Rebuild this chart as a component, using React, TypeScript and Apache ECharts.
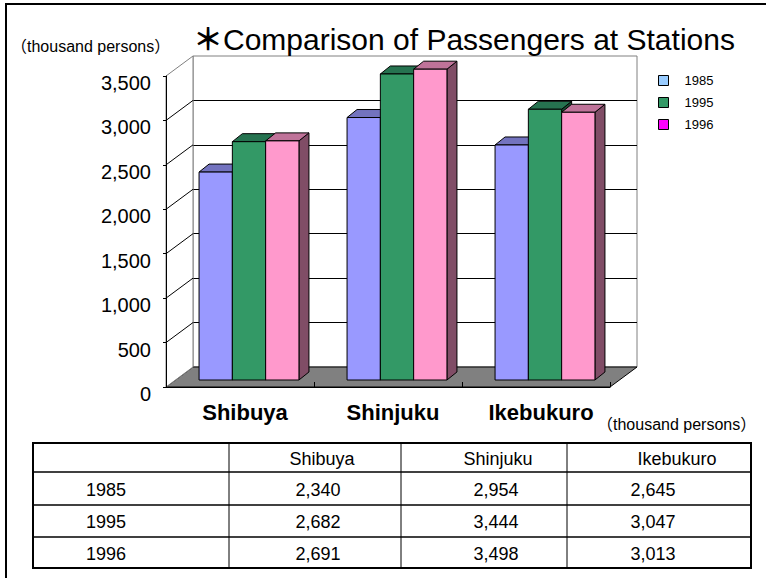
import React, { useEffect, useRef } from 'react';
import * as echarts from 'echarts';

// ---- data ----
const stations = ['Shibuya', 'Shinjuku', 'Ikebukuro'];
const years = ['1985', '1995', '1996'];
const values1985 = [2340, 2954, 2645];
const values1995 = [2682, 3444, 3047];
const values1996 = [2691, 3498, 3013];
const valueTicks = [0, 500, 1000, 1500, 2000, 2500, 3000, 3500];
const titleMark = '＊';
const titleText = 'Comparison of Passengers at Stations';
const unitLabel = '（thousand persons）';

// ---- styles ----
const FONT = "'Liberation Sans', Arial, 'Noto Sans CJK JP', sans-serif";
const frontColors = ['#9999FF', '#339966', '#FF99CC'];
const topColors = ['#7373BF', '#267350', '#BF7399'];
const sideColors = ['#4D4D80', '#1A4D33', '#804D66'];
const legendColors = ['#99CCFF', '#339966', '#FF00FF'];
const DX = 27; // wall depth
const DY = 20;
const BAR_DX = 10; // bar depth
const BAR_DY = 8;
const V_MAX = 3500;

const seriesValues = [values1985, values1995, values1996];

const fmt = (v: number) => v.toLocaleString('en-US');

const makeBarSeries = (idx: number) => ({
  type: 'custom',
  name: years[idx],
  xAxisIndex: 2,
  yAxisIndex: 2,
  z: 3,
  silent: true,
  data: seriesValues[idx].map((v, i) => [i, v]),
  renderItem: (params: any, api: any) => {
    const cat = api.value(0);
    const val = api.value(1);
    const top = api.coord([cat, val]);
    const base = api.coord([cat, 0]);
    const band = api.size([1, 0])[0];
    const w = band * 0.225;
    const x0 = top[0] + (idx - 1) * w - w / 2;
    const x1 = x0 + w;
    const y0 = top[1];
    const y1 = base[1];
    return {
      type: 'group',
      children: [
        {
          type: 'polygon',
          shape: { points: [[x1, y0], [x1 + BAR_DX, y0 - BAR_DY], [x1 + BAR_DX, y1 - BAR_DY], [x1, y1]] },
          style: { fill: sideColors[idx], stroke: '#000', lineWidth: 1 },
        },
        {
          type: 'polygon',
          shape: { points: [[x0, y0], [x0 + BAR_DX, y0 - BAR_DY], [x1 + BAR_DX, y0 - BAR_DY], [x1, y0]] },
          style: { fill: topColors[idx], stroke: '#000', lineWidth: 1 },
        },
        {
          type: 'rect',
          shape: { x: x0, y: y0, width: w, height: y1 - y0 },
          style: { fill: frontColors[idx], stroke: '#000', lineWidth: 1 },
        },
      ],
    };
  },
});

const boxSeries = {
  type: 'custom',
  xAxisIndex: 0,
  yAxisIndex: 0,
  z: 1,
  silent: true,
  data: [[0, 0]],
  renderItem: (params: any, api: any) => {
    const cs = params.coordSys;
    const left = cs.x;
    const right = cs.x + cs.width;
    const topY = cs.y;
    const bottom = cs.y + cs.height;
    const children: any[] = [
      {
        type: 'polygon',
        shape: { points: [[left, bottom], [left + DX, bottom - DY], [right + DX, bottom - DY], [right, bottom]] },
        style: { fill: '#808080', stroke: '#000', lineWidth: 1 },
      },
      {
        type: 'polygon',
        shape: { points: [[left, bottom], [left, topY], [left + DX, topY - DY], [left + DX, bottom - DY]] },
        style: { fill: '#fff', stroke: '#808080', lineWidth: 1 },
      },
    ];
    valueTicks.forEach((v) => {
      if (v > 0 && v < V_MAX) {
        const y = api.coord([0, v])[1];
        children.push({
          type: 'line',
          shape: { x1: left, y1: y, x2: left + DX, y2: y - DY },
          style: { stroke: '#000', lineWidth: 1 },
        });
      }
    });
    return { type: 'group', children };
  },
};

// ---- table ----
const tableCols = [33, 229, 401, 567, 751];
const tableRows = [443, 472, 505, 537, 568];
const headerX = [322, 498, 677];
const valueX = [318, 496, 653];
const yearX = 106;

const tableGraphics = (): any[] => {
  const els: any[] = [];
  const L = tableCols[0];
  const R = tableCols[tableCols.length - 1];
  const T = tableRows[0];
  const B = tableRows[tableRows.length - 1];
  tableCols.slice(1, -1).forEach((x) =>
    els.push({ type: 'line', shape: { x1: x, y1: T, x2: x, y2: B }, style: { stroke: '#000', lineWidth: 1 } })
  );
  tableRows.slice(1, -1).forEach((y) =>
    els.push({ type: 'line', shape: { x1: L, y1: y, x2: R, y2: y }, style: { stroke: '#000', lineWidth: 1.5 } })
  );
  els.push({
    type: 'rect',
    shape: { x: L, y: T, width: R - L, height: B - T },
    style: { fill: 'none', stroke: '#000', lineWidth: 2 },
  });
  const txt = (text: string, x: number, y: number) => ({
    type: 'text',
    x,
    y,
    style: { text, fill: '#000', fontSize: 18, fontFamily: FONT, align: 'center', verticalAlign: 'middle' },
  });
  stations.forEach((s, i) => els.push(txt(s, headerX[i], (tableRows[0] + tableRows[1]) / 2 + 1)));
  years.forEach((yr, r) => {
    const cy = (tableRows[r + 1] + tableRows[r + 2]) / 2 + 1;
    els.push(txt(yr, yearX, cy));
    seriesValues[r].forEach((v, c) => els.push(txt(fmt(v), valueX[c], cy)));
  });
  return els;
};

const option: any = {
  animation: false,
  backgroundColor: '#fff',
  title: {
    text: '{m|' + titleMark + '}' + titleText,
    left: 188,
    top: 19,
    textStyle: {
      fontSize: 30,
      fontWeight: 'normal',
      color: '#000',
      fontFamily: FONT,
      rich: { m: { fontSize: 30, fontWeight: 'bold', color: '#000', fontFamily: FONT } },
    },
  },
  legend: {
    orient: 'vertical',
    left: 653,
    top: 69,
    itemWidth: 10,
    itemHeight: 10,
    itemGap: 9,
    icon: 'rect',
    selectedMode: false,
    data: years.map((y, i) => ({
      name: y,
      itemStyle: { color: legendColors[i], borderColor: '#000', borderWidth: 1 },
    })),
    textStyle: { fontSize: 13, color: '#000', fontFamily: FONT, padding: [0, 0, 0, 11] },
  },
  grid: [
    { left: 166, top: 76, width: 444, height: 311, show: false },
    {
      left: 193,
      top: 56,
      width: 444,
      height: 311,
      show: true,
      borderColor: '#808080',
      borderWidth: 1,
      backgroundColor: '#fff',
    },
    { left: 175, top: 69, width: 444, height: 311, show: false },
  ],
  xAxis: [
    {
      gridIndex: 0,
      type: 'category',
      data: stations,
      z: 5,
      axisLine: { show: true, lineStyle: { color: '#000', width: 1 } },
      axisTick: { show: true, inside: true, length: 5, lineStyle: { color: '#000' } },
      axisLabel: {
        fontSize: 22,
        fontWeight: 'bold',
        color: '#000',
        fontFamily: FONT,
        margin: 14,
        padding: [0, 0, 0, 10],
      },
    },
    { gridIndex: 1, type: 'category', data: stations, show: false },
    { gridIndex: 2, type: 'category', data: stations, show: false },
  ],
  yAxis: [
    {
      gridIndex: 0,
      type: 'value',
      min: 0,
      max: V_MAX,
      interval: 500,
      z: 5,
      axisLine: { show: true, lineStyle: { color: '#000', width: 1 } },
      axisTick: { show: true, length: 3, lineStyle: { color: '#000' } },
      splitLine: { show: false },
      axisLabel: {
        fontSize: 20,
        color: '#000',
        fontFamily: FONT,
        margin: 15,
        verticalAlign: 'top',
        lineHeight: 14,
        formatter: (v: number) => fmt(v),
      },
    },
    {
      gridIndex: 1,
      type: 'value',
      min: 0,
      max: V_MAX,
      interval: 500,
      axisLine: { show: false },
      axisTick: { show: false },
      axisLabel: { show: false },
      splitLine: { show: true, showMinLine: false, showMaxLine: false, lineStyle: { color: '#000', width: 1 } },
    },
    { gridIndex: 2, type: 'value', min: 0, max: V_MAX, interval: 500, show: false },
  ],
  series: [boxSeries, makeBarSeries(0), makeBarSeries(1), makeBarSeries(2)],
  graphic: [
    {
      type: 'polyline',
      shape: { points: [[6, 578], [6, 4], [766, 4]] },
      style: { stroke: '#000', lineWidth: 2, fill: 'none' },
    },
    {
      type: 'text',
      left: 11,
      top: 38,
      style: { text: unitLabel, fontSize: 16, fill: '#000', fontFamily: FONT },
    },
    {
      type: 'text',
      left: 597,
      top: 416,
      style: { text: unitLabel, fontSize: 16, fill: '#000', fontFamily: FONT },
    },
    ...tableGraphics(),
  ],
};

export default function App() {
  const ref = useRef<HTMLDivElement>(null);
  useEffect(() => {
    const chart = echarts.init(ref.current!, null, { renderer: 'svg' });
    chart.setOption(option);
    return () => chart.dispose();
  }, []);
  return (
    <div
      ref={ref}
      style={{ position: 'fixed', left: 0, top: 0, width: 766, height: 578, background: '#fff' }}
    />
  );
}
